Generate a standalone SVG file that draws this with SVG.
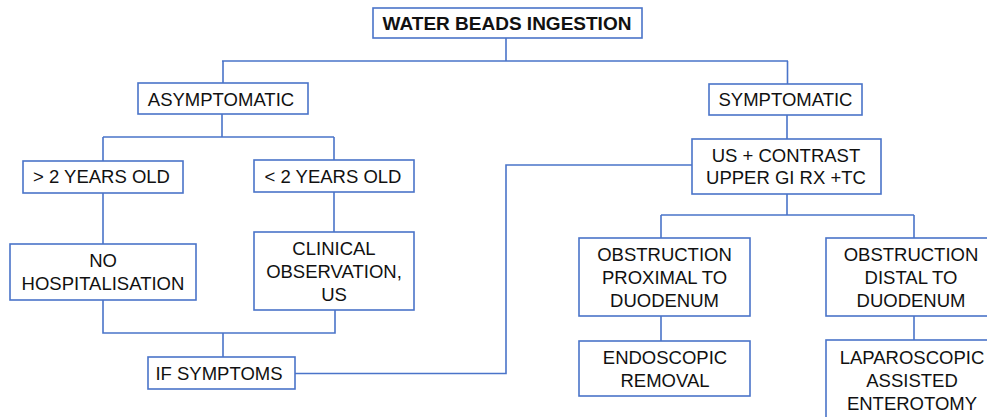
<svg xmlns="http://www.w3.org/2000/svg" width="987" height="417" viewBox="0 0 987 417">
<style>
.box{fill:#fff;stroke:#4a74c9;stroke-width:1.6}
.ln{fill:none;stroke:#4a74c9;stroke-width:1.6}
text{font-family:"Liberation Sans",Arial,sans-serif;font-size:18.5px;fill:#111;text-anchor:middle}
.t{font-weight:bold;font-size:19px}
</style>
<rect width="987" height="417" fill="#fff"/>
<g id="connectors">
<path class="ln" d="M506 38V61M222 61H788M223 61V83M787.5 61V84"/>
<path class="ln" d="M222 114V137M103 137H334M103 137V161M334 137V160"/>
<path class="ln" d="M103 193V244M334 192V232"/>
<path class="ln" d="M103 300V333H335V310M223 333V357"/>
<path class="ln" d="M295 373.5H506V165H692"/>
<path class="ln" d="M787 115V139M787 194V215M661 215H914M661 215V238M914 215V238"/>
<path class="ln" d="M661 316V341M914 316V340"/>
</g>
<g id="n-title"><rect class="box" x="373" y="8" width="269" height="30"/><text class="t" x="507" y="29.5">WATER BEADS INGESTION</text></g>
<g id="n-asym"><rect class="box" x="138" y="83" width="170" height="31"/><text x="221" y="105.5">ASYMPTOMATIC</text></g>
<g id="n-sym"><rect class="box" x="709" y="84" width="153" height="31"/><text x="785.5" y="106">SYMPTOMATIC</text></g>
<g id="n-gt2"><rect class="box" x="23" y="161" width="160" height="32"/><text x="101.5" y="183">&gt; 2 YEARS OLD</text></g>
<g id="n-lt2"><rect class="box" x="254" y="160" width="160" height="32"/><text x="333" y="183">&lt; 2 YEARS OLD</text></g>
<g id="n-us"><rect class="box" x="692" y="139" width="189" height="55"/><text x="786" y="161.5">US + CONTRAST</text><text x="786" y="184">UPPER GI RX +TC</text></g>
<g id="n-nohosp"><rect class="box" x="10" y="244" width="186" height="56"/><text x="103" y="266.5">NO</text><text x="103" y="290">HOSPITALISATION</text></g>
<g id="n-clin"><rect class="box" x="254" y="232" width="160" height="78"/><text x="334" y="255">CLINICAL</text><text x="334" y="277.5">OBSERVATION,</text><text x="334" y="300.5">US</text></g>
<g id="n-ifsym"><rect class="box" x="148" y="357" width="147" height="32"/><text x="219" y="380">IF SYMPTOMS</text></g>
<g id="n-prox"><rect class="box" x="579" y="238" width="171" height="78"/><text x="664.5" y="260.7">OBSTRUCTION</text><text x="664.5" y="283.5">PROXIMAL TO</text><text x="664.5" y="307">DUODENUM</text></g>
<g id="n-dist"><rect class="box" x="826" y="238" width="174" height="78"/><text x="911" y="260.7">OBSTRUCTION</text><text x="911" y="283.5">DISTAL TO</text><text x="911" y="307">DUODENUM</text></g>
<g id="n-endo"><rect class="box" x="579" y="341" width="171" height="55"/><text x="665" y="364">ENDOSCOPIC</text><text x="665" y="387">REMOVAL</text></g>
<g id="n-lap"><rect class="box" x="826" y="340" width="174" height="90"/><text x="912" y="363.5">LAPAROSCOPIC</text><text x="912" y="386.5">ASSISTED</text><text x="912" y="409.5">ENTEROTOMY</text></g>
</svg>
